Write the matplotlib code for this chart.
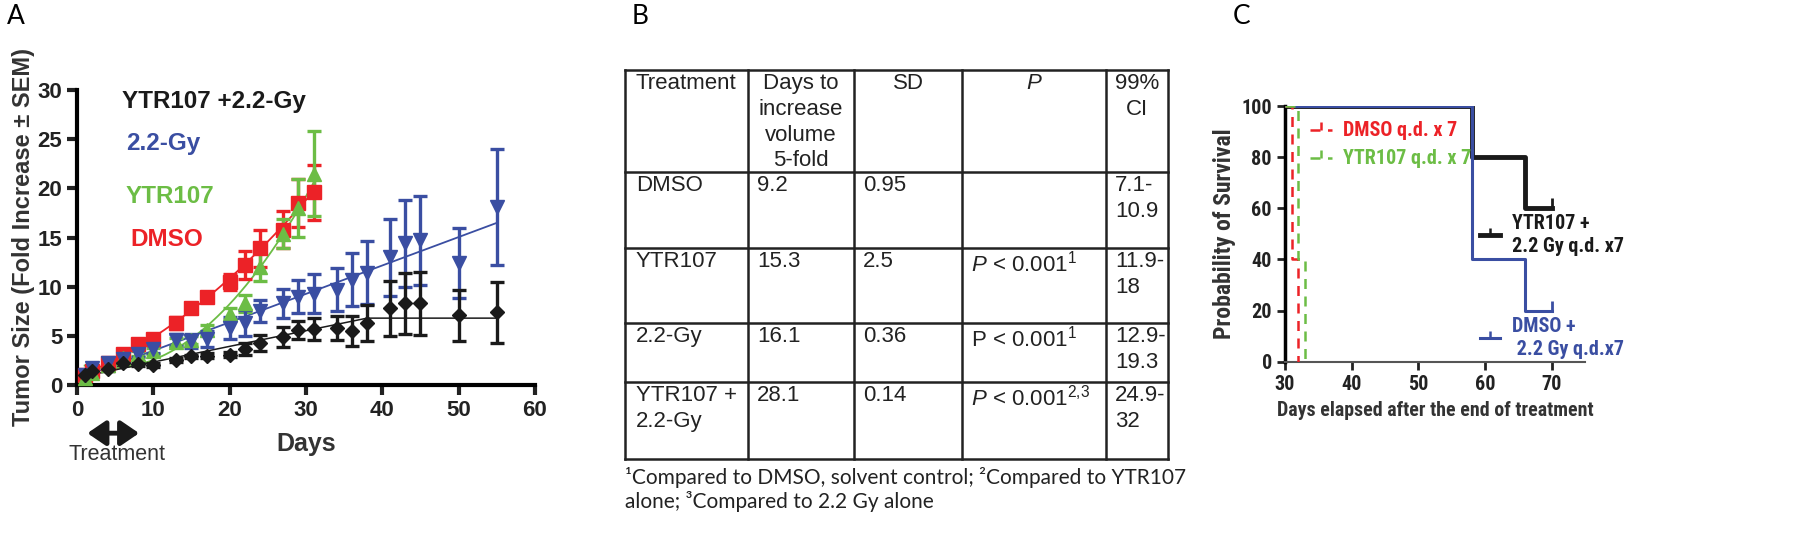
import matplotlib
matplotlib.use('Agg')
import matplotlib.pyplot as plt
from matplotlib import font_manager
import numpy as np

plt.rcParams['font.family'] = ['Liberation Sans', 'DejaVu Sans']
plt.rcParams['mathtext.fontset'] = 'custom'
plt.rcParams['mathtext.rm'] = 'Liberation Sans'
plt.rcParams['mathtext.it'] = 'Liberation Sans:italic'

# ---- panel A: tumour growth (fold increase +- SEM)
days = [1, 2, 4, 6, 8, 10, 13, 15, 17, 20, 22, 24, 27, 29, 31,
        34, 36, 38, 41, 43, 45, 50, 55]
short_days = days[:15]

dmso_mean = [1.0, 1.4, 2.2, 3.2, 4.2, 4.7, 6.3, 7.8, 9.0, 10.5, 12.2, 13.9, 15.8, 18.5, 19.6]
dmso_sem = [0.2, 0.2, 0.3, 0.3, 0.3, 0.4, 0.6, 0.5, 0.5, 0.8, 1.4, 1.9, 1.9, 2.4, 2.8]

ytr_mean = [0.7, 1.2, 2.0, 2.7, 3.2, 3.5, 4.4, 4.6, 5.6, 7.2, 8.3, 12.0, 15.4, 18.0, 21.5]
ytr_sem = [0.2, 0.2, 0.2, 0.3, 0.3, 0.3, 0.4, 0.4, 0.5, 0.6, 0.9, 1.4, 1.5, 2.9, 4.3]

gy_mean = [1.0, 1.7, 2.2, 2.6, 3.2, 3.7, 4.6, 4.5, 4.7, 5.8, 6.3, 7.5, 8.3, 9.0, 9.3,
           9.7, 10.7, 11.4, 13.0, 14.4, 14.7, 12.4, 18.1]
gy_sem = [0.2, 0.3, 0.3, 0.3, 0.4, 0.4, 0.6, 0.7, 0.8, 1.1, 1.3, 1.1, 1.5, 1.7, 2.0,
          2.2, 2.7, 3.2, 3.9, 4.4, 4.5, 3.6, 5.9]

combo_mean = [1.0, 1.4, 1.6, 2.2, 2.1, 2.0, 2.5, 2.9, 3.0, 3.1, 3.7, 4.3, 4.9, 5.6, 5.7,
              5.8, 5.5, 6.3, 7.8, 8.3, 8.3, 7.1, 7.4]
combo_sem = [0.2, 0.2, 0.2, 0.2, 0.2, 0.2, 0.2, 0.2, 0.3, 0.3, 0.6, 0.8, 1.0, 0.9, 1.1,
             1.2, 1.5, 1.8, 2.8, 3.1, 3.2, 2.6, 3.1]
combo_fit_days = [1, 38, 55]
combo_fit_vals = [0.9, 6.8, 6.8]

treat_days = [1, 8.5]

# ---- panel B: table
col_head = ['Treatment', 'Days to\nincrease\nvolume\n5-fold', 'SD', '$P$', '99%\nCI']
treatments = ['DMSO', 'YTR107', '2.2-Gy', 'YTR107 +\n2.2-Gy']
fold_days = ['9.2', '15.3', '16.1', '28.1']
sd_vals = ['0.95', '2.5', '0.36', '0.14']
p_vals = ['', '$P$ < 0.001$^{1}$', 'P < 0.001$^{1}$', '$P$ < 0.001$^{2{,}3}$']
ci_vals = ['7.1-\n10.9', '11.9-\n18', '12.9-\n19.3', '24.9-\n32']
footnote = ('\u00b9Compared to DMSO, solvent control; \u00b2Compared to YTR107\n'
            'alone; \u00b3Compared to 2.2 Gy alone')

# ---- panel C: survival
dmso_t = [30, 31, 32]
dmso_s = [100, 40, 0]
ytr_t = [30, 32, 33]
ytr_s = [100, 40, 0]
combo_t = [30, 58, 66, 70]
combo_s = [100, 80, 60, 60]
gy_t = [30, 58, 66, 70]
gy_s = [100, 40, 20, 20]

RED = '#ec2227'
GREEN = '#6cbd45'
BLUE = '#3a4ea2'
BLACK = '#1a1a1a'

# pick a narrow bold face for panel C (the original uses Arial Narrow)
fonts = font_manager.fontManager.ttflist
font_names = {f.name for f in fonts}
narrow = None
for fam, sc in [('Roboto Condensed', 1.0), ('Archivo Narrow', 1.0),
                ('PT Sans Narrow', 1.05), ('Liberation Sans Narrow', 1.05)]:
    if fam in font_names:
        narrow = dict(family=fam, fontweight='bold')
        nscale = sc
        break
if narrow is None:
    narrow = dict(family='Liberation Sans', fontweight='bold')
    nscale = 0.86

W, H = 1800, 546
fig = plt.figure(figsize=(18, 5.46), dpi=100)

# full-figure pixel axes for the table and panel letters
bg = fig.add_axes([0, 0, 1, 1])
bg.set_xlim(0, W)
bg.set_ylim(H, 0)
bg.axis('off')

for lbl, x in [('A', 7), ('B', 632), ('C', 1233)]:
    bg.text(x, 4, lbl, fontsize=19, family=['Lato', 'DejaVu Sans'], va='top', ha='left')

# ----- panel A
axA = fig.add_axes([77 / W, 1 - 385 / H, (535 - 77) / W, (385 - 90) / H])
series = [
    (short_days, dmso_mean, dmso_sem, RED, 's', 10),
    (short_days, ytr_mean, ytr_sem, GREEN, '^', 10.5),
    (days, gy_mean, gy_sem, BLUE, 'v', 10.5),
    (days, combo_mean, combo_sem, BLACK, 'D', 7.5),
]
for x, y, e, c, m, ms in series:
    axA.errorbar(x, y, yerr=e, fmt=m, color=c, ms=ms, elinewidth=2.4,
                 capsize=5, capthick=2.4, clip_on=False, zorder=3)

# fitted curves
xs = np.linspace(short_days[0], short_days[-1], 200)
cr = np.polyfit(short_days, dmso_mean, 2)
axA.plot(xs, np.polyval(cr, xs), color=RED, lw=1.3, zorder=2)
cg = np.polyfit(short_days, ytr_mean, 2)
axA.plot(xs, np.polyval(cg, xs), color=GREEN, lw=1.3, zorder=2)
cb = np.polyfit(days, gy_mean, 1)
xl = np.array([days[0], days[-1]])
axA.plot(xl, np.polyval(cb, xl), color=BLUE, lw=1.3, zorder=2)
axA.plot(combo_fit_days, combo_fit_vals, color=BLACK, lw=1.1, zorder=2)

axA.set_xlim(0, 60)
axA.set_ylim(0, 30)
for s in ['top', 'right']:
    axA.spines[s].set_visible(False)
for s in ['left', 'bottom']:
    axA.spines[s].set_linewidth(3)
axA.set_xticks(range(0, 61, 10), [str(v) for v in range(0, 61, 10)], fontweight='bold')
axA.set_yticks(range(0, 31, 5), [str(v) for v in range(0, 31, 5)], fontweight='bold')
axA.tick_params(labelsize=16, width=3, length=7, colors='#222222')
axA.set_ylabel('Tumor Size (Fold Increase \u00b1 SEM)', fontsize=17,
               fontweight='bold', color='#333333', labelpad=2)
axA.text(30, -6.0, 'Days', fontsize=18, fontweight='bold', ha='center',
         va='center', color='#333333')
axA.annotate('', xy=(treat_days[1], -4.9), xytext=(treat_days[0], -4.9),
             arrowprops=dict(arrowstyle='<|-|>,head_length=1.1,head_width=0.75',
                             color=BLACK, lw=3.5),
             annotation_clip=False)
axA.text(np.mean(treat_days) + 0.5, -7.1, 'Treatment', fontsize=15.5,
         ha='center', va='center', color='#333333')

legA = [('YTR107 +2.2-Gy', BLACK, 5.9, 28.8), ('2.2-Gy', BLUE, 6.4, 24.6),
        ('YTR107', GREEN, 6.4, 19.2), ('DMSO', RED, 7.0, 14.8)]
for t, c, x, y in legA:
    axA.text(x, y, t, color=c, fontsize=17.5, fontweight='bold', va='center', ha='left')

# ----- panel B table
col_edges = [625, 748, 854, 962, 1106, 1168]
row_edges = [70, 172, 248, 323, 382, 459]
for xe in col_edges:
    bg.plot([xe, xe], [row_edges[0], row_edges[-1]], color='#222222', lw=1.8)
for ye in row_edges:
    bg.plot([col_edges[0], col_edges[-1]], [ye, ye], color='#222222', lw=1.8)

tfs = 16
lsp = 1.3
bg.text(col_edges[0] + 11, row_edges[0] + 3, col_head[0], fontsize=tfs, va='top',
        ha='left', color='#222222', linespacing=lsp)
for j in range(1, 5):
    cx = (col_edges[j] + col_edges[j + 1]) / 2
    bg.text(cx, row_edges[0] + 3, col_head[j], fontsize=tfs, va='top', ha='center',
            color='#222222', linespacing=lsp)
rows = list(zip(treatments, fold_days, sd_vals, p_vals, ci_vals))
for i, row in enumerate(rows):
    for j, val in enumerate(row):
        bg.text(col_edges[j] + (11 if j == 0 else 9), row_edges[i + 1] + 3, val,
                fontsize=tfs, va='top', ha='left', color='#222222', linespacing=lsp)
bg.text(col_edges[0], 467, footnote, fontsize=15, va='top', ha='left',
        family=['Lato', 'DejaVu Sans'], color='#222222', linespacing=1.2)

# ----- panel C
axC = fig.add_axes([1285 / W, 1 - 361.7 / H, 300 / W, (361.7 - 106) / H])
axC.step(combo_t, combo_s, where='post', color=BLACK, lw=3.5, zorder=2)
axC.step(gy_t, gy_s, where='post', color=BLUE, lw=2.2, zorder=3)
axC.step(dmso_t, dmso_s, where='post', color=RED, lw=1.8, ls=(0, (4, 3)), zorder=4)
axC.step(ytr_t, ytr_s, where='post', color=GREEN, lw=1.8, ls=(0, (4, 3)), zorder=4)
axC.plot(combo_t[-1:], combo_s[-1:], marker=2, ms=7, mew=2, color=BLACK, ls='none')
axC.plot(gy_t[-1:], gy_s[-1:], marker=2, ms=7, mew=2, color=BLUE, ls='none')

axC.set_xlim(30, 75)
axC.set_ylim(0, 100)
axC.spines['top'].set_visible(False)
axC.spines['right'].set_visible(False)
axC.spines['left'].set_linewidth(2.5)
axC.spines['bottom'].set_linewidth(1.5)
axC.spines['bottom'].set_color('#555555')
axC.set_xticks(range(30, 71, 10), [str(v) for v in range(30, 71, 10)], **narrow)
axC.set_yticks(range(0, 101, 20), [str(v) for v in range(0, 101, 20)], **narrow)
axC.tick_params(labelsize=14.5 * nscale, width=2, length=6, colors='#222222')
axC.set_ylabel('Probability of Survival', fontsize=17 * nscale,
               color='#333333', labelpad=4, **narrow)
axC.set_xlabel('Days elapsed after the end of treatment', fontsize=14.3 * nscale,
               color='#333333', labelpad=5, **narrow)

legC = [(RED, 90.6, 'DMSO q.d. x 7'), (GREEN, 79.6, 'YTR107 q.d. x 7')]
for c, y, t in legC:
    axC.plot([33.8, 37.0], [y, y], color=c, lw=1.8, ls=(0, (4, 3)), clip_on=False)
    axC.plot([35.4], [y], marker=2, ms=6, mew=1.8, color=c, clip_on=False)
    axC.text(38.7, y, t, color=c, fontsize=14.5 * nscale, va='center', ha='left', **narrow)
legC2 = [(BLACK, 3.5, 49.5, 'YTR107 +\n2.2 Gy q.d. x7'),
         (BLUE, 2.2, 9.3, 'DMSO +\n 2.2 Gy q.d.x7')]
for c, lw, y, t in legC2:
    axC.plot([59.3, 62.3], [y, y], color=c, lw=lw, clip_on=False)
    axC.plot([60.8], [y], marker=2, ms=5, mew=1.8, color=c, clip_on=False)
    axC.text(64.1, y, t, color=c, fontsize=14.5 * nscale, va='center', ha='left',
             linespacing=1.25, clip_on=False, **narrow)

fig.savefig('out.png', dpi=100)
